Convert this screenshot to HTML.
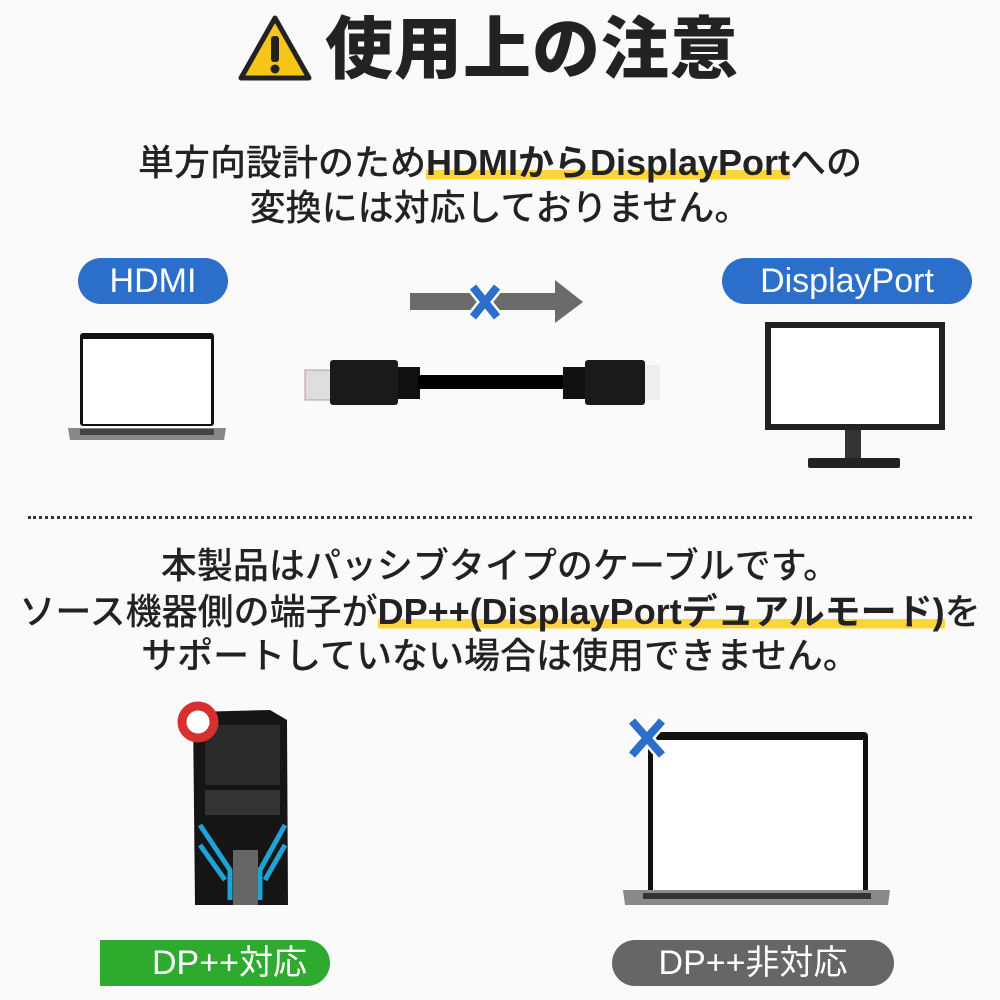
<!DOCTYPE html>
<html><head><meta charset="utf-8"><style>
body{margin:0;width:1000px;height:1000px;background:#fafafa;position:relative;overflow:hidden;font-family:"Liberation Sans","Noto Sans CJK JP",sans-serif;color:#222}
.a{position:absolute}
.t{position:absolute;left:0;width:1000px;text-align:center;white-space:nowrap;font-weight:500}
.hl{background:linear-gradient(transparent 68%,#ffd43b 68%,#ffd43b 92%,transparent 92%);font-weight:700}
.pill{position:absolute;color:#fff;text-align:center;border-radius:24px;font-size:34px;line-height:46px}
</style></head><body>
<svg class="a" style="left:238px;top:14px" width="74" height="70" viewBox="0 0 74 70"><path d="M37 4 L71 64 L3 64 Z" fill="#f5c518" stroke="#222" stroke-width="5" stroke-linejoin="round"/><rect x="33" y="22" width="8" height="26" rx="3" fill="#222"/><circle cx="37" cy="55" r="4.5" fill="#222"/></svg>
<div class="a" style="left:325px;top:6px;font-size:68px;font-weight:900;line-height:88px;letter-spacing:1px">使用上の注意</div>
<div class="t" style="top:140px;font-size:36px;line-height:46px">単方向設計のため<span class="hl">HDMIからDisplayPort</span>への</div>
<div class="t" style="top:185px;font-size:36px;line-height:46px">変換には対応しておりません。</div>
<div class="pill" style="left:78px;top:258px;width:150px;background:#2b6fcb">HDMI</div>
<div class="pill" style="left:722px;top:258px;width:250px;background:#2b6fcb">DisplayPort</div>
<svg class="a" style="left:405px;top:275px" width="185" height="55"><rect x="5" y="18" width="150" height="17" fill="#6b6b6b"/><path d="M150 5 L178 27 L150 48 Z" fill="#6b6b6b"/><path d="M68 12 L92 42 M92 12 L68 42" stroke="#fff" stroke-width="13"/><path d="M68 12 L92 42 M92 12 L68 42" stroke="#2b6fcb" stroke-width="8"/></svg>
<svg class="a" style="left:66px;top:332px" width="162" height="112"><rect x="14" y="1" width="134" height="93" rx="3" fill="#111"/><rect x="17" y="7" width="128" height="85" fill="#fff"/><path d="M2 96 L160 96 L158 108 L4 108 Z" fill="#888"/><rect x="14" y="97" width="134" height="6" fill="#444"/></svg>
<svg class="a" style="left:300px;top:355px" width="365" height="55"><rect x="5" y="15" width="30" height="30" fill="#ddd" stroke="#b99" stroke-width="1"/><rect x="30" y="5" width="68" height="45" rx="3" fill="#1a1a1a"/><rect x="98" y="12" width="22" height="32" fill="#111"/><rect x="118" y="20" width="150" height="14" fill="#000"/><rect x="263" y="12" width="22" height="32" fill="#111"/><rect x="285" y="5" width="60" height="45" rx="3" fill="#1a1a1a"/><rect x="345" y="10" width="15" height="35" fill="#eee"/></svg>
<svg class="a" style="left:763px;top:320px" width="184" height="152"><rect x="2" y="2" width="180" height="108" fill="#222"/><rect x="8" y="8" width="168" height="96" fill="#fff"/><rect x="82" y="110" width="16" height="32" fill="#333"/><rect x="45" y="138" width="92" height="10" rx="2" fill="#222"/></svg>
<div class="a" style="left:28px;top:516px;width:944px;border-top:3px dotted #333"></div>
<div class="t" style="top:543px;font-size:36px;line-height:46px">本製品はパッシブタイプのケーブルです。</div>
<div class="t" style="top:589px;font-size:36px;line-height:46px">ソース機器側の端子が<span class="hl">DP++(DisplayPortデュアルモード)</span>を</div>
<div class="t" style="top:633px;font-size:36px;line-height:46px">サポートしていない場合は使用できません。</div>
<svg class="a" style="left:175px;top:700px" width="125" height="215"><path d="M18 12 L95 10 L112 20 L113 205 L20 205 Z" fill="#151515"/><rect x="30" y="25" width="75" height="60" fill="#2a2a2a"/><rect x="30" y="90" width="75" height="25" fill="#333"/><path d="M25 125 L55 170 L55 200 M110 125 L85 170 L85 200 M25 145 L50 180 M110 145 L90 180" stroke="#1fa3d6" stroke-width="5" fill="none"/><rect x="58" y="150" width="25" height="55" fill="#666"/><circle cx="23" cy="22" r="16" fill="#fff" stroke="#d63031" stroke-width="9"/></svg>
<svg class="a" style="left:618px;top:705px" width="275" height="205"><rect x="30" y="27" width="220" height="172" rx="4" fill="#111"/><rect x="35" y="35" width="210" height="150" fill="#fff"/><path d="M5 185 L272 185 L270 200 L7 200 Z" fill="#8a8a8a"/><rect x="25" y="188" width="228" height="6" fill="#333"/><path d="M14 16 L44 50 M44 16 L14 50" stroke="#fff" stroke-width="13"/><path d="M14 16 L44 50 M44 16 L14 50" stroke="#2b6fcb" stroke-width="8"/></svg>
<div class="pill" style="left:100px;top:940px;width:230px;background:#2eaa2e;text-align:left;border-radius:0 24px 24px 0"><span style="margin-left:52px">DP++対応</span></div>
<div class="pill" style="left:612px;top:940px;width:282px;background:#666">DP++非対応</div>
</body></html>
